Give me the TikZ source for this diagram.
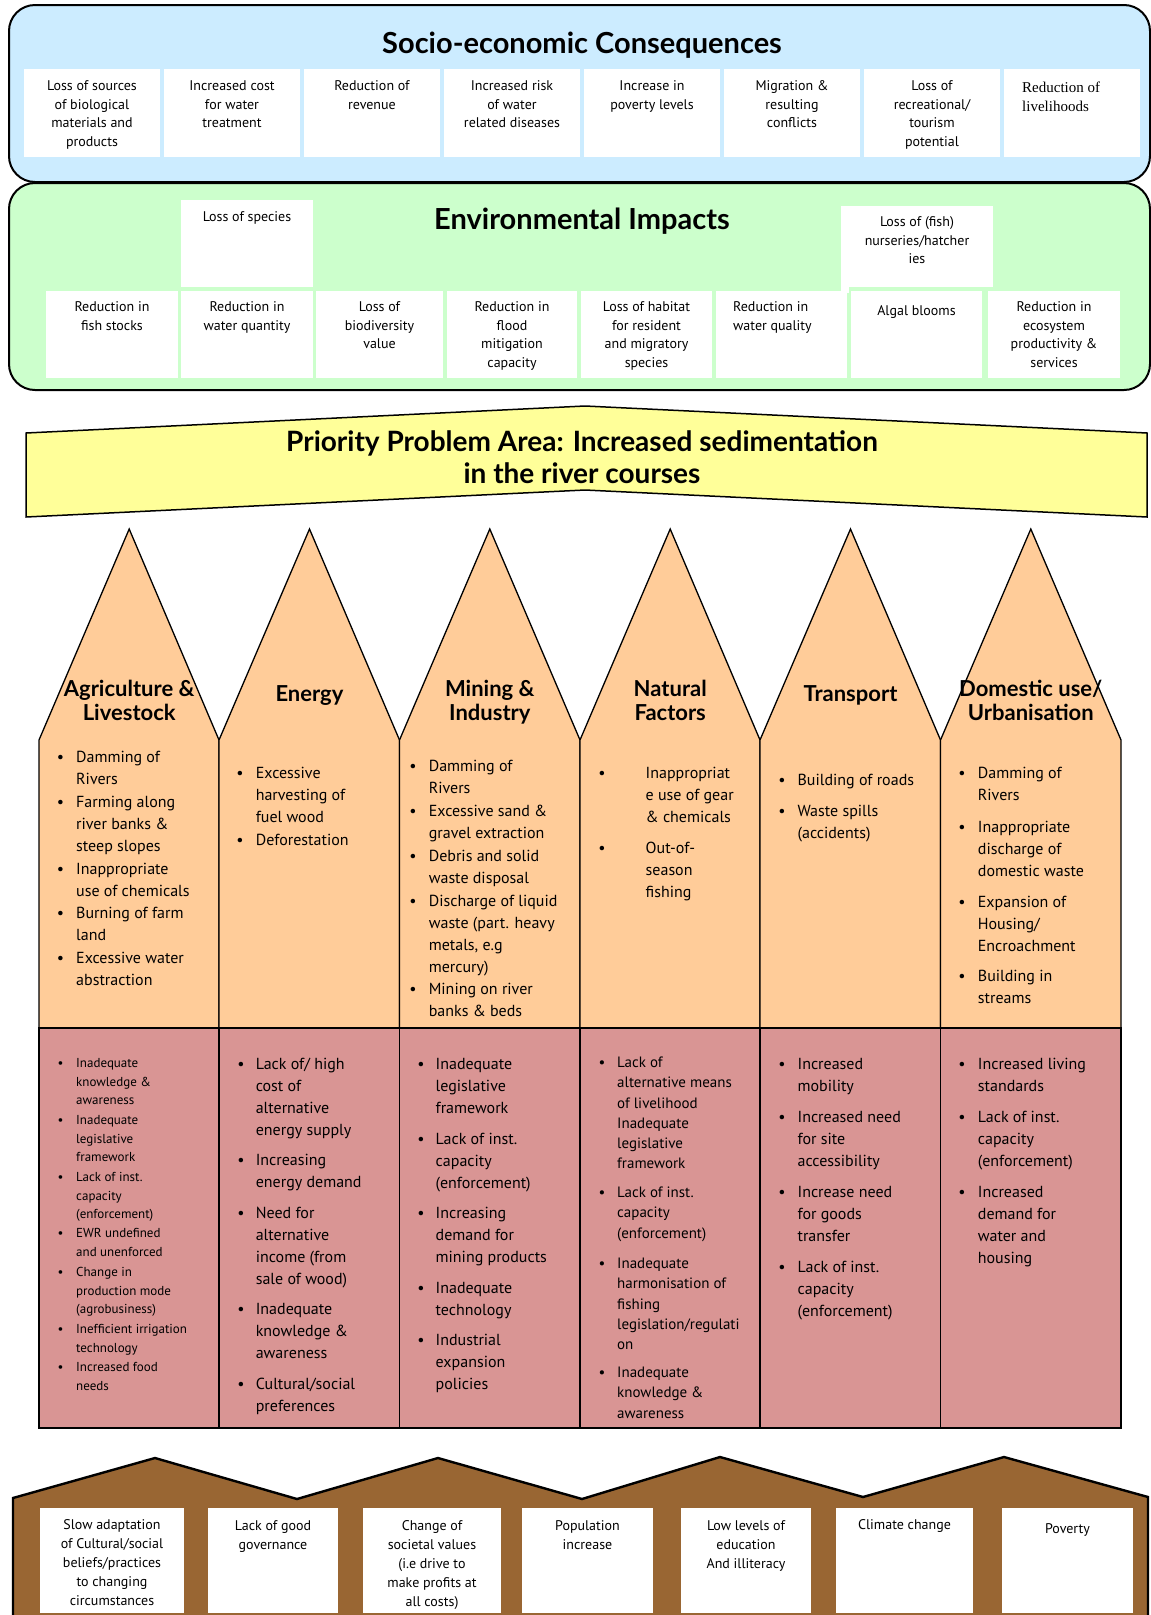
\documentclass[tikz,border=0pt]{standalone}
\usepackage{fontspec}
\setmainfont{PT Sans}
\newfontfamily\serifface{Liberation Serif}
\newfontfamily\headface{Lato}
\definecolor{seBg}{HTML}{CCECFF}
\definecolor{envBg}{HTML}{CCFFCC}
\definecolor{probBg}{HTML}{FFFF99}
\definecolor{sectorBg}{HTML}{FFCC99}
\definecolor{causeBg}{HTML}{D99594}
\definecolor{rootBg}{HTML}{996633}

% bullet item: name, bullet x, text x, first-line y, style, text
\newcommand\BulItem[6]{%
  \node[#5,anchor=north] (#1b) at (#2,#4) {\strut\textbullet};
  \node[#5,anchor=north west,align=left] (#1) at (#3,#4) {\strut #6};}

\begin{document}
\begin{tikzpicture}[x=1pt,y=-1pt,
  panel/.style={draw=black,line width=2pt,rounded corners=26pt},
  wbox/.style={fill=white},
  t14/.style={inner sep=0pt,align=center,anchor=north,font=\fontsize{14}{18.8}\selectfont,yshift=9pt},
  t14l/.style={inner sep=0pt,align=left,anchor=north west,font=\fontsize{14}{18.8}\selectfont,yshift=9pt},
  tser/.style={inner sep=0pt,align=left,anchor=north west,font=\serifface\fontsize{15}{19}\selectfont,yshift=8.8pt},
  tbr/.style={inner sep=0pt,align=center,anchor=north,font=\fontsize{14}{19}\selectfont,yshift=9.1pt},
  ob/.style={inner sep=0pt,font=\fontsize{16}{22.3}\selectfont,yshift=10.8pt},
  rs/.style={inner sep=0pt,font=\fontsize{13}{18.9}\selectfont,yshift=9.3pt},
  rm/.style={inner sep=0pt,font=\fontsize{15}{20.2}\selectfont,yshift=9.6pt},
  rb/.style={inner sep=0pt,font=\fontsize{16}{22}\selectfont,yshift=10.6pt},
  coltitle/.style={inner sep=0pt,align=center,anchor=north,font=\headface\bfseries\fontsize{22}{24}\selectfont,yshift=10.2pt},
  bigtitle/.style={inner sep=0pt,align=center,anchor=north,font=\headface\bfseries\fontsize{29}{32}\selectfont,yshift=13.7pt},
  probtitle/.style={inner sep=0pt,align=center,anchor=north,font=\headface\bfseries\fontsize{28}{32}\selectfont,yshift=14pt},
  housefill/.style={fill=sectorBg,draw=black,line width=1.3pt},
  causefill/.style={fill=causeBg,draw=black,line width=1.7pt},
]
\useasboundingbox (0,0) rectangle (1151,1615);

% ---------------- Socio-economic consequences ----------------
\path[panel,fill=seBg] (9,5) rectangle (1150,182);
\node[bigtitle] (setitle) at (582,45) {\strut Socio-economic Consequences};
\foreach \i in {0,...,7} {\path[wbox] (24+140*\i,69) rectangle (160+140*\i,157);}
\node[t14] (se1) at (92,86)  {\strut Loss of sources\\of biological\\materials and\\products};
\node[t14] (se2) at (232,86) {\strut Increased cost\\for water\\treatment};
\node[t14] (se3) at (372,86) {\strut Reduction of\\revenue};
\node[t14] (se4) at (512,86) {\strut Increased risk\\of water\\related diseases};
\node[t14] (se5) at (652,86) {\strut Increase in\\poverty levels};
\node[t14] (se6) at (792,86) {\strut Migration \&\\resulting\\conflicts};
\node[t14] (se7) at (932,86) {\strut Loss of\\recreational/\\tourism\\potential};
\node[tser] (se8) at (1022,88) {\strut Reduction of\\livelihoods};

% ---------------- Environmental impacts ----------------
\path[panel,fill=envBg] (9,183) rectangle (1150,390);
\node[bigtitle] (envtitle) at (582,221) {\strut Environmental Impacts};
\path[wbox] (181,200) rectangle (313,287);
\path[wbox] (841,206) rectangle (993,287);
\path[wbox] (841,287) rectangle (849,293);
\node[t14] (ei1) at (247,217) {\strut Loss of species};
\node[t14] (ei2) at (917,222) {\strut Loss of (fish)\\nurseries/hatcher\\ies};
\foreach \a/\b in {46/178,181/313,316/443,447/577,581/712,716/847,851/982,988/1120}
  {\path[wbox] (\a,291) rectangle (\b,378);}
\node[t14] (ei3) at (112,307)   {\strut Reduction in\\fish stocks};
\node[t14] (ei4) at (247,307)   {\strut Reduction in\\water quantity};
\node[t14] (ei5) at (379.5,307) {\strut Loss of\\biodiversity\\value};
\node[t14] (ei6) at (512,307)   {\strut Reduction in\\flood\\mitigation\\capacity};
\node[t14] (ei7) at (646.5,307) {\strut Loss of habitat\\for resident\\and migratory\\species};
\node[t14l] (ei8) at (733,307)  {\strut Reduction in\\water quality};
\node[t14] (ei9) at (916.5,311) {\strut Algal blooms};
\node[t14] (ei10) at (1054,307) {\strut Reduction in\\ecosystem\\productivity \&\\services};

% ---------------- Priority problem banner ----------------
\path[fill=probBg,draw=black,line width=1.5pt]
  (26,433) -- (585,406) -- (1147,433) -- (1147,517) -- (585,490) -- (26,517) -- cycle;
\node[probtitle] (prob) at (582,443) {\strut Priority Problem Area: Increased sedimentation\\in the river courses};

% ---------------- Sector houses ----------------
\foreach \L/\C/\R in {39/129.2/219,219/309.5/399.5,399.5/489.8/580,580/670.2/760,760/850.5/940.5,940.5/1030.8/1121}
{
  \path[housefill] (\L,1028) -- (\L,740) -- (\C,529) -- (\R,740) -- (\R,1028) -- cycle;
  \path[causefill] (\L,1028) rectangle (\R,1428);
}
\node[coltitle] (sec1) at (129.2,690) {\strut Agriculture \&\\Livestock};
\node[coltitle] (sec2) at (309.5,695) {\strut Energy};
\node[coltitle] (sec3) at (489.8,690) {\strut Mining \&\\Industry};
\node[coltitle] (sec4) at (670.2,690) {\strut Natural\\Factors};
\node[coltitle] (sec5) at (850.5,695) {\strut Transport};
\node[coltitle] (sec6) at (1030.8,690) {\strut Domestic use/\\Urbanisation};

% sector activities
\BulItem{a1}{60.5}{76}{757}{ob}{Damming of\\Rivers}
\BulItem{a2}{60.5}{76}{802}{ob}{Farming along\\river banks \&\\steep slopes}
\BulItem{a3}{60.5}{76}{869}{ob}{Inappropriate\\use of chemicals}
\BulItem{a4}{60.5}{76}{913}{ob}{Burning of farm\\land}
\BulItem{a5}{60.5}{76}{958}{ob}{Excessive water\\abstraction}

\BulItem{b1}{240}{255.6}{773}{ob}{Excessive\\harvesting of\\fuel wood}
\BulItem{b2}{240}{255.6}{840}{ob}{Deforestation}

\BulItem{c1}{413}{428.6}{766}{ob}{Damming of\\Rivers}
\BulItem{c2}{413}{428.6}{811}{ob}{Excessive sand \&\\gravel extraction}
\BulItem{c3}{413}{428.6}{856}{ob}{Debris and solid\\waste disposal}
\BulItem{c4}{413}{428.6}{901}{ob}{Discharge of liquid\\waste (part. heavy\\metals, e.g\\mercury)}
\BulItem{c5}{413}{428.6}{989}{ob}{Mining on river\\banks \& beds}

\BulItem{d1}{602}{645.5}{773}{ob}{Inappropriat\\e use of gear\\\& chemicals}
\BulItem{d2}{602}{645.5}{848}{ob}{Out-of-\\season\\fishing}

\BulItem{e1}{782}{797.4}{780}{ob}{Building of roads}
\BulItem{e2}{782}{797.4}{811}{ob}{Waste spills\\(accidents)}

\BulItem{f1}{962}{977.7}{773}{ob}{Damming of\\Rivers}
\BulItem{f2}{962}{977.7}{827}{ob}{Inappropriate\\discharge of\\domestic waste}
\BulItem{f3}{962}{977.7}{902}{ob}{Expansion of\\Housing/\\Encroachment}
\BulItem{f4}{962}{977.7}{976}{ob}{Building in\\streams}

% underlying causes
\BulItem{ra1}{60.5}{76}{1063}{rs}{Inadequate\\knowledge \&\\awareness}
\BulItem{ra2}{60.5}{76}{1120}{rs}{Inadequate\\legislative\\framework}
\BulItem{ra3}{60.5}{76}{1177}{rs}{Lack of inst.\\capacity\\(enforcement)}
\BulItem{ra4}{60.5}{76}{1233}{rs}{EWR undefined\\and unenforced}
\BulItem{ra5}{60.5}{76}{1272}{rs}{Change in\\production mode\\(agrobusiness)}
\BulItem{ra6}{60.5}{76}{1329}{rs}{Inefficient irrigation\\technology}
\BulItem{ra7}{60.5}{76}{1367}{rs}{Increased food\\needs}

\BulItem{rb1}{241}{255.6}{1064}{rb}{Lack of/ high\\cost of\\alternative\\energy supply}
\BulItem{rb2}{241}{255.6}{1160}{rb}{Increasing\\energy demand}
\BulItem{rb3}{241}{255.6}{1213}{rb}{Need for\\alternative\\income (from\\sale of wood)}
\BulItem{rb4}{241}{255.6}{1309}{rb}{Inadequate\\knowledge \&\\awareness}
\BulItem{rb5}{241}{255.6}{1384}{rb}{Cultural/social\\preferences}

\BulItem{rc1}{421}{435.5}{1064}{rb}{Inadequate\\legislative\\framework}
\BulItem{rc2}{421}{435.5}{1139}{rb}{Lack of inst.\\capacity\\(enforcement)}
\BulItem{rc3}{421}{435.5}{1213}{rb}{Increasing\\demand for\\mining products}
\BulItem{rc4}{421}{435.5}{1288}{rb}{Inadequate\\technology}
\BulItem{rc5}{421}{435.5}{1340}{rb}{Industrial\\expansion\\policies}

\BulItem{rd1}{602}{617}{1063}{rm}{Lack of\\alternative means\\of livelihood\\Inadequate\\legislative\\framework}
\BulItem{rd2}{602}{617}{1193}{rm}{Lack of inst.\\capacity\\(enforcement)}
\BulItem{rd3}{602}{617}{1264}{rm}{Inadequate\\harmonisation of\\fishing\\legislation/regulati\\on}
\BulItem{rd4}{602}{617}{1373}{rm}{Inadequate\\knowledge \&\\awareness}

\BulItem{re1}{782}{797.4}{1064}{rb}{Increased\\mobility}
\BulItem{re2}{782}{797.4}{1117}{rb}{Increased need\\for site\\accessibility}
\BulItem{re3}{782}{797.4}{1192}{rb}{Increase need\\for goods\\transfer}
\BulItem{re4}{782}{797.4}{1267}{rb}{Lack of inst.\\capacity\\(enforcement)}

\BulItem{rf1}{962}{977.7}{1064}{rb}{Increased living\\standards}
\BulItem{rf2}{962}{977.7}{1117}{rb}{Lack of inst.\\capacity\\(enforcement)}
\BulItem{rf3}{962}{977.7}{1192}{rb}{Increased\\demand for\\water and\\housing}

% ---------------- Root causes ----------------
\path[fill=rootBg] (13,1615) -- (13,1498) -- (155,1458) -- (297,1499) -- (438,1458) -- (582,1499)
  -- (720,1457) -- (863,1497) -- (1004,1457) -- (1148,1497) -- (1148,1615) -- cycle;
\draw[line width=2.4pt,line join=miter] (13,1615) -- (13,1498) -- (155,1458) -- (297,1499) -- (438,1458) -- (582,1499)
  -- (720,1457) -- (863,1497) -- (1004,1457) -- (1148,1497) -- (1148,1615);
\foreach \a/\b in {40/184,208/338,363/501,522/653,681/811,836/973,1002/1133}
  {\path[wbox] (\a,1508) rectangle (\b,1613);}
\node[tbr] (rt1) at (112,1525)  {\strut Slow adaptation\\of Cultural/social\\beliefs/practices\\to changing\\circumstances};
\node[tbr] (rt2) at (273,1526)  {\strut Lack of good\\governance};
\node[tbr] (rt3) at (432,1526)  {\strut Change of\\societal values\\(i.e drive to\\make profits at\\all costs)};
\node[tbr] (rt4) at (587.5,1526) {\strut Population\\increase};
\node[tbr] (rt5) at (746,1526)  {\strut Low levels of\\education\\And illiteracy};
\node[tbr] (rt6) at (904.5,1525) {\strut Climate change};
\node[tbr] (rt7) at (1067.5,1529) {\strut Poverty};
\end{tikzpicture}
\end{document}
